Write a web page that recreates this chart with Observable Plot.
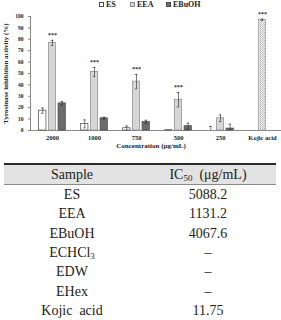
<!DOCTYPE html>
<html>
<head>
<meta charset="utf-8">
<script src="https://cdn.jsdelivr.net/npm/d3@7"></script>
<script src="https://cdn.jsdelivr.net/npm/@observablehq/plot@0.6"></script>
<style>
  html, body { margin: 0; padding: 0; background: #fff; }
  #wrap { position: relative; width: 281px; height: 320px; overflow: hidden; }
  #legend { position: absolute; top: 0; left: 0; width: 281px; height: 10px;
    font-family: "Liberation Serif", "Times New Roman", Tinos, "DejaVu Serif", serif;
    font-weight: bold; font-size: 8px; color: #222; }
  #legend .item { position: absolute; top: 0; line-height: 10px; white-space: nowrap; }
  #legend .sw { display: inline-block; width: 5px; height: 5px; box-sizing: border-box;
    vertical-align: 0px; margin-right: 2px; }
  #chart { position: absolute; top: 0; left: 0; }
  #tbl { position: absolute; top: 163px; left: 4px; width: 272px; border-collapse: collapse;
    font-family: "Liberation Serif", "Times New Roman", Tinos, "DejaVu Serif", serif;
    font-size: 14px; color: #222; }
  #tbl th { font-weight: normal; height: 19px; background: #e3e3e3; border-top: 2px solid #2a2a2a;
    border-bottom: 1px solid #8a8a8a; padding: 0; text-align: center; }
  #tbl td { height: 19.3px; padding: 0; text-align: center; line-height: 19px; }
  #tbl tr:last-child td { border-bottom: 1.5px solid #2a2a2a; }
  #tbl sub { font-size: 9px; vertical-align: -2px; line-height: 0; }
</style>
</head>
<body>
<div id="wrap">
  <div id="chart"></div>
  <div id="legend"></div>
  <table id="tbl"></table>
</div>
<script>
// ---------- data ----------
const concentrations = ["2000", "1000", "750", "500", "250"];
const kojicLabel = "Kojic acid";
const xCategories = [...concentrations, kojicLabel];
const seriesNames = ["ES", "EEA", "EBuOH"];
const esValues    = [17.4, 5.8, 2.0, 0.3, 0];
const esErrors    = [2.3, 3.5, 2.0, 0, 3.5];
const eeaValues   = [76.8, 51.3, 42.9, 27.0, 10.7];
const eeaErrors   = [2.3, 4.0, 6.3, 6.3, 2.9];
const ebuohValues = [23.8, 10.7, 7.5, 3.8, 1.7];
const ebuohErrors = [1.7, 0.9, 1.5, 2.6, 3.8];
const eeaSignificance = ["***", "***", "***", "***", ""];
const kojicValue = 97.1;
const kojicError = 0.6;
const kojicSignificance = "***";
const yTicks = [0, 10, 20, 30, 40, 50, 60, 70, 80, 90, 100];
const yLabel = "Tyrosinase inhibition activity (%)";
const xLabel = "Concentration (\u03bcg/mL)";
const tableHeader = ["Sample", "IC50 (\u03bcg/mL)"];
const tableSamples = ["ES", "EEA", "EBuOH", "ECHCl3", "EDW", "EHex", "Kojic acid"];
const tableIC50 = ["5088.2", "1131.2", "4067.6", "\u2013", "\u2013", "\u2013", "11.75"];

// ---------- styles ----------
const serif = "'Liberation Serif', 'Times New Roman', Tinos, 'DejaVu Serif', serif";
const seriesStyle = {
  "ES":    {fill: "#ffffff", stroke: "#4a4a4a", dx: -9.7},
  "EEA":   {fill: "#d6d6d6", stroke: "#8a8a8a", dx: 0},
  "EBuOH": {fill: "#6c6c6c", stroke: "#4a4a4a", dx: 9.7},
  "Kojic": {fill: "url(#kojicDots)", stroke: "#9a9a9a", dx: 0}
};

const valueSets = {ES: [esValues, esErrors], EEA: [eeaValues, eeaErrors], EBuOH: [ebuohValues, ebuohErrors]};
const rows = [];
for (const s of seriesNames) {
  const [vals, errs] = valueSets[s];
  concentrations.forEach((c, i) => rows.push({
    conc: c, series: s, value: vals[i], err: errs[i],
    sig: s === "EEA" ? eeaSignificance[i] : ""
  }));
}
rows.push({conc: kojicLabel, series: "Kojic", value: kojicValue, err: kojicError, sig: kojicSignificance});

const groups = ["ES", "EEA", "EBuOH", "Kojic"];
const inset = 17.35;
const capInset = 19.7;
const marks = [
  () => {
    const defs = d3.create("svg:defs");
    const p = defs.append("pattern").attr("id", "kojicDots").attr("width", 2).attr("height", 2)
      .attr("patternUnits", "userSpaceOnUse");
    p.append("rect").attr("width", 2).attr("height", 2).attr("fill", "#f2f2f2");
    p.append("rect").attr("width", 1).attr("height", 1).attr("fill", "#b5b5b5");
    p.append("rect").attr("x", 1).attr("y", 1).attr("width", 1).attr("height", 1).attr("fill", "#cfcfcf");
    return defs.node();
  }
];
for (const g of groups) {
  const st = seriesStyle[g];
  const data = rows.filter(d => d.series === g);
  marks.push(Plot.barY(data, {x: "conc", y: "value", dx: st.dx, insetLeft: inset, insetRight: inset,
    fill: st.fill, stroke: st.stroke, strokeWidth: 0.7}));
  const ed = data.filter(d => d.err > 0);
  marks.push(Plot.ruleX(ed, {x: "conc", y1: d => Math.max(0, d.value - d.err), y2: d => d.value + d.err,
    dx: st.dx, stroke: "#222", strokeWidth: 0.6}));
  marks.push(Plot.tickY(ed, {x: "conc", y: d => d.value + d.err, dx: st.dx,
    insetLeft: capInset, insetRight: capInset, stroke: "#222", strokeWidth: 0.6}));
  marks.push(Plot.tickY(ed.filter(d => d.value - d.err > 0), {x: "conc", y: d => d.value - d.err, dx: st.dx,
    insetLeft: capInset, insetRight: capInset, stroke: "#222", strokeWidth: 0.6}));
  marks.push(Plot.text(data.filter(d => d.sig), {x: "conc", y: d => d.value + d.err, text: "sig", dx: st.dx,
    dy: -5, fontSize: 6, fontWeight: "bold", fill: "#333"}));
}

const chart = Plot.plot({
  width: 281,
  height: 152,
  marginTop: 16,
  marginBottom: 22,
  marginLeft: 30,
  marginRight: 0,
  style: {fontFamily: serif, background: "transparent", color: "#222"},
  x: {domain: xCategories, range: [29.8, 284.2], padding: 0},
  y: {domain: [0, 100]},
  marks: [
    Plot.frame({anchor: "left", stroke: "#8a8a8a"}),
    Plot.ruleY([0], {stroke: "#8a8a8a"}),
    Plot.axisY({ticks: yTicks, tickSize: 2, tickPadding: 5, fontSize: 5.5, fontWeight: "bold",
      label: null, stroke: "#8a8a8a", fill: "#222"}),
    Plot.axisX({tickSize: 0, tickPadding: 5, fontSize: 6.5, fontWeight: "bold", label: null,
      fill: "#222", style: {letterSpacing: "0.8px"}}),
    Plot.text([yLabel], {frameAnchor: "left", textAnchor: "middle", dx: -25, rotate: -90,
      fontSize: 7, fontWeight: "bold", fill: "#222"}),
    Plot.text([xLabel], {frameAnchor: "bottom", textAnchor: "middle", dx: -5, dy: 17, fontSize: 7,
      fontWeight: "bold", fill: "#222", style: {letterSpacing: "0.5px"}}),
    ...marks
  ]
});
document.getElementById("chart").appendChild(chart);

// legend
const legendPos = {ES: 99, EEA: 130, EBuOH: 166};
const legend = document.getElementById("legend");
for (const s of seriesNames) {
  const st = seriesStyle[s];
  const item = document.createElement("span");
  item.className = "item";
  item.style.left = legendPos[s] + "px";
  item.innerHTML = `<span class="sw" style="background:${st.fill};border:0.8px solid ${st.stroke}"></span>${s}`;
  legend.appendChild(item);
}

// table
const fmt = t => t.replace(/^(.*?[A-Za-z])(\d+)(.*)$/, "$1<sub>$2</sub>$3");
const tbl = document.getElementById("tbl");
const thead = document.createElement("tr");
thead.innerHTML = tableHeader.map(h => `<th style="width:50%">${fmt(h).replace(" (", "&nbsp;&nbsp;(")}</th>`).join("");
tbl.appendChild(thead);
tableSamples.forEach((s, i) => {
  const tr = document.createElement("tr");
  tr.innerHTML = `<td>${fmt(s).replace(" ", "&nbsp;&nbsp;")}</td><td>${tableIC50[i]}</td>`;
  tbl.appendChild(tr);
});
</script>
</body>
</html>
